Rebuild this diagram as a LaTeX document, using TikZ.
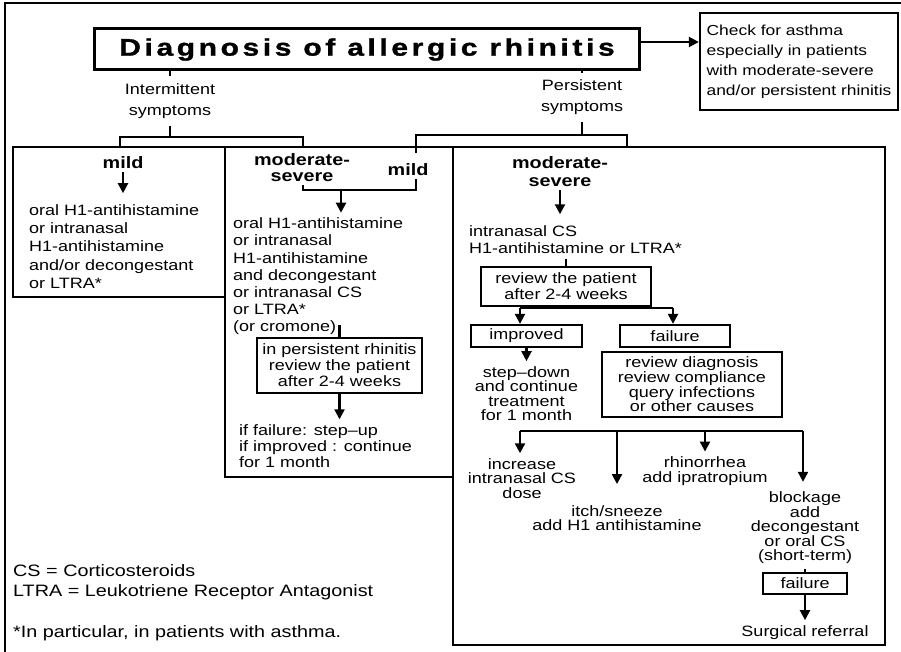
\documentclass[tikz,border=0pt]{standalone}
\usepackage{fontspec}
\setmainfont{Liberation Sans}[FakeStretch=1.2]
\newfontfamily\titlefont{Liberation Sans}[FakeStretch=1.25, LetterSpace=15, FakeBold=1.2]
\usetikzlibrary{arrows.meta, positioning}
\newcommand{\fsz}[2]{\fontsize{#1}{#2}\selectfont}

\begin{document}
\begin{tikzpicture}[x=1pt, y=-1pt,
    region/.style={draw, line width=2.3pt, inner sep=0pt},
    boxed/.style={draw, line width=2.3pt, align=center, inner sep=0pt, font=\fsz{15}{16}},
    txt/.style={inner xsep=0pt, inner ysep=5pt, align=left, font=\fsz{15}{17.5}},
    ctxt/.style={inner xsep=0pt, inner ysep=5pt, align=center, font=\fsz{15}{14.5}},
    lab/.style={inner sep=3pt, align=center, font=\fsz{16.5}{16}\bfseries},
    conn/.style={line width=2.2pt},
    arr/.style={line width=2.2pt, -{Triangle[length=10pt, width=10pt]}}
]
\useasboundingbox (0,0) rectangle (901,652);
% outer frame
\draw[line width=1.4pt] (5,652) -- (5,3) -- (901,3);

% Title and asthma note
\node[region, line width=3pt, minimum width=545pt, minimum height=41pt,
      font=\titlefont\fontsize{24}{28}\selectfont\bfseries] (title) at (367,49.5) {Diagnosis of allergic rhinitis};
\node[boxed, align=left, minimum width=198pt, minimum height=97pt, font=\fsz{14.5}{20}] (check) at (799,61.5)
    {Check for asthma\\especially in patients\\with moderate-severe\\and/or persistent rhinitis};
\draw[arr] ([yshift=7.5pt]title.east) -- ([yshift=7.5pt]title.east -| check.west);

% Symptom branches
\node[ctxt, font=\fsz{15}{21}, inner ysep=7pt] (inter) at (170,101) {Intermittent\\symptoms};
\node[ctxt, font=\fsz{15}{21}, inner ysep=7pt] (pers) at (582,97.5) {Persistent\\symptoms};
\draw[conn] (title.south -| inter) -- (inter.north);
\draw[conn] (title.south -| pers) -- (pers.north);

\coordinate (ibl) at (120,137);
\coordinate (ibr) at (303,137);
\coordinate (pbl) at (416,135);
\coordinate (pbr) at (627,135);

% Treatment regions
\node[region, minimum width=212pt, minimum height=150pt] (lbox) at (119,222) {};
\node[region, minimum width=228pt, minimum height=330pt] (mbox) at (339,312) {};
\node[region, minimum width=432pt, minimum height=498pt] (rbox) at (669,396) {};

\draw[conn] (inter.south) -- (inter.south |- ibl);
\draw[conn] (ibl |- lbox.north) -- (ibl) -- (ibr) -- (ibr |- lbox.north);
\draw[conn] (pers.south) -- (pers.south |- pbl);
\draw[conn] (pbr |- rbox.north) -- (pbr) -- (pbl) -- ++(0,18);

% Intermittent mild
\node[lab] (lmild) at (123,163) {mild};
\node[txt, font=\fsz{15}{18.3}, anchor=west] (ltxt) at (29,246.5)
    {oral H1-antihistamine\\or intranasal\\H1-antihistamine\\and/or decongestant\\or LTRA*};
\draw[arr, shorten >=6pt] (lmild.south) -- (lmild.south |- ltxt.north);

% Intermittent moderate-severe and persistent mild
\node[lab] (msev) at (302,168) {moderate-\\severe};
\node[lab] (mmild) at (408,170) {mild};
\coordinate (mjl) at (303,190);
\coordinate (mjr) at (416,190);
\coordinate (mjm) at (341,190);
\draw[conn] (mjl |- msev.south) -- (mjl) -- (mjr) -- (mjr |- mmild.south);
\node[txt, font=\fsz{15}{17.2}, anchor=west] (mtxt) at (233,276.5)
    {oral H1-antihistamine\\or intranasal\\H1-antihistamine\\and decongestant\\or intranasal CS\\or LTRA*\\(or cromone)};
\draw[arr] (mjm) -- (mjm |- mtxt.north);
\node[boxed, minimum width=165pt, minimum height=55pt] (prev) at (339.5,365.5)
    {in persistent rhinitis\\review the patient\\after 2-4 weeks};
\draw[conn] (prev.north) -- ++(0,-12);
\node[txt, font=\fsz{15}{16}, anchor=west] (fin) at (239,446)
    {if failure: step--up\\if improved : continue\\for 1 month};
\draw[arr] (prev.south) -- (prev.south |- fin.north);

% Persistent moderate-severe
\node[lab, font=\fsz{16.5}{18}\bfseries] (rsev) at (560,172) {moderate-\\severe};
\node[txt, font=\fsz{15}{17}, anchor=west] (rtxt) at (469,239.5) {intranasal CS\\H1-antihistamine or LTRA*};
\draw[arr, shorten >=6pt] (rsev.south) -- (rsev.south |- rtxt.north);
\node[boxed, minimum width=170pt, minimum height=39pt] (rev) at (566,286.5) {review the patient\\after 2-4 weeks};
\draw[conn] (rev.north |- rtxt.south) -- (rev.north);

\node[boxed, minimum width=111pt, minimum height=22pt] (imp) at (526.5,336) {improved};
\node[boxed, minimum width=110pt, minimum height=22pt] (fail) at (675,336) {failure};
\coordinate (rvl) at (520,308);
\coordinate (rvr) at (673,308);
\draw[conn] (rev.south) -- (rev.south |- rvl);
\draw[conn] (rvl) -- (rvr);
\draw[arr] (rvl) -- (rvl |- imp.north);
\draw[arr] (rvr) -- (rvr |- fail.north);

\node[ctxt, below=13pt of imp] (stepd) {step--down\\and continue\\treatment\\for 1 month};
\draw[arr] (imp.south) -- (stepd.north);
\node[boxed, minimum width=180pt, minimum height=65pt, font=\fsz{15}{14.7}] (revd) at (692,384.5)
    {review diagnosis\\review compliance\\query infections\\or other causes};

% Add-on options
\coordinate (bkl) at (520,431);
\coordinate (bkr) at (803,431);
\node[ctxt] (inc) at (522,478.5) {increase\\intranasal CS\\dose};
\node[ctxt, font=\fsz{15}{14.5}] (itch) at (617,518) {itch/sneeze\\add H1 antihistamine};
\node[ctxt, font=\fsz{15}{14.5}] (rhin) at (705,471) {rhinorrhea\\add ipratropium};
\node[ctxt] (block) at (805,528) {blockage\\add\\decongestant\\or oral CS\\(short-term)};
\draw[conn] (bkl) -- (bkr);
\draw[arr] (bkl) -- (bkl |- inc.north);
\draw[arr, shorten >=16pt] (itch.north |- bkl) -- (itch.north);
\draw[arr] (rhin.north |- bkl) -- (rhin.north);
\draw[arr, shorten >=5pt] (bkr) -- (bkr |- block.north);
\node[boxed, minimum width=84pt, minimum height=21pt] (fail2) at (805,583.5) {failure};
\draw[conn] (block.south) -- (fail2.north);
\node[ctxt, below=25pt of fail2] (surg) {Surgical referral};
\draw[arr] (fail2.south) -- (surg.north);

% Legend
\node[txt, font=\fsz{16.5}{20.4}, anchor=west] (legend) at (13,602.5)
    {CS = Corticosteroids\\LTRA = Leukotriene Receptor Antagonist\\[20.4pt]*In particular, in patients with asthma.};
\end{tikzpicture}
\end{document}
